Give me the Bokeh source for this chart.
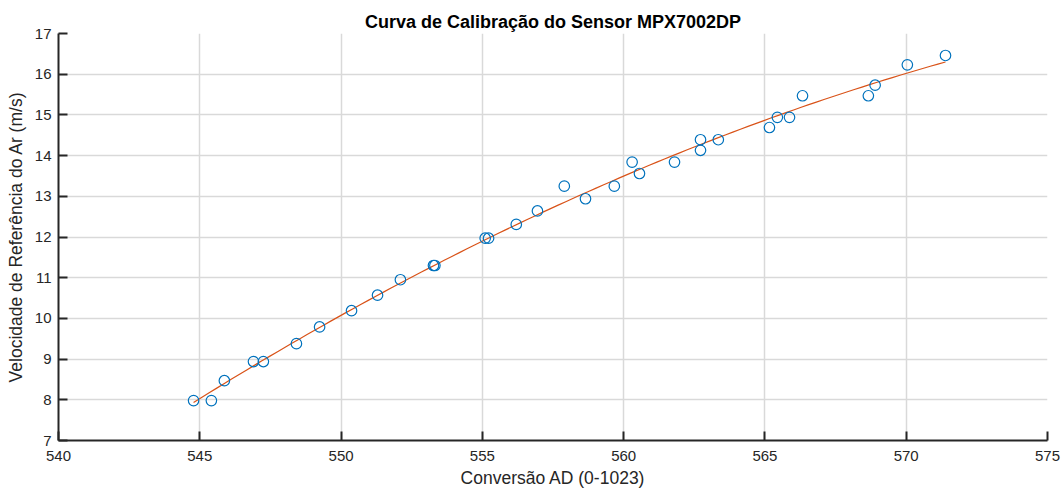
import numpy as np
from bokeh.plotting import figure
from bokeh.models import Range1d, FixedTicker
from bokeh.embed import file_html
from bokeh.resources import INLINE

# Leituras do conversor AD e velocidades de referência
conv_ad = [544.78, 545.41, 545.87, 546.90, 547.25, 548.42, 549.24, 550.37,
           551.29, 552.10, 553.27, 553.32, 555.10, 555.22, 556.20, 556.95,
           557.90, 558.65, 559.67, 560.30, 560.56, 561.80, 562.72, 562.72,
           563.35, 565.16, 565.44, 565.87, 566.33, 568.66, 568.90, 570.04,
           571.39]
velocidade = [7.98, 7.98, 8.47, 8.94, 8.94, 9.38, 9.79, 10.19,
              10.57, 10.95, 11.30, 11.30, 11.97, 11.97, 12.31, 12.64,
              13.25, 12.94, 13.25, 13.84, 13.56, 13.84, 14.39, 14.13,
              14.39, 14.69, 14.94, 14.94, 15.47, 15.47, 15.73, 16.23,
              16.46]

x_ticks = [540, 545, 550, 555, 560, 565, 570, 575]
y_ticks = [7, 8, 9, 10, 11, 12, 13, 14, 15, 16, 17]

# Curva ajustada (polinômio de 2º grau pelos pontos medidos)
coef = np.polyfit(conv_ad, velocidade, 2)
x_fit = np.linspace(min(conv_ad), max(conv_ad), 100)
y_fit = np.polyval(coef, x_fit)

FONT = "Liberation Sans"

p = figure(width=1062, height=493, output_backend="svg", toolbar_location=None,
           x_range=Range1d(540, 575), y_range=Range1d(7, 17),
           min_border_left=58, min_border_right=15, min_border_top=33,
           min_border_bottom=53, background_fill_color="white",
           border_fill_color="white")
p.outline_line_color = None

p.title.text = "Curva de Calibração do Sensor MPX7002DP"
p.title.align = "center"
p.title.text_font = FONT
p.title.text_font_size = "18px"
p.title.text_font_style = "bold"
p.title.text_color = "#000000"
p.title.standoff = 3

p.line(x_fit, y_fit, line_color="#D95319", line_width=1.2)
p.scatter(conv_ad, velocidade, marker="circle", size=10.5, fill_color=None,
          line_color="#0072BD", line_width=1.2)

for ax, ticks in ((p.xaxis, x_ticks), (p.yaxis, y_ticks)):
    ax.ticker = FixedTicker(ticks=ticks)
    ax.minor_tick_line_color = None
    ax.major_tick_in = 9
    ax.major_tick_out = 0
    ax.axis_line_color = "#262626"
    ax.axis_line_width = 2
    ax.major_tick_line_color = "#262626"
    ax.major_tick_line_width = 2
    ax.major_label_text_font = FONT
    ax.major_label_text_font_size = "15px"
    ax.major_label_text_color = "#262626"
    ax.axis_label_text_font = FONT
    ax.axis_label_text_font_size = "17.5px"
    ax.axis_label_text_font_style = "normal"
    ax.axis_label_text_color = "#262626"

p.xaxis.axis_label = "Conversão AD (0-1023)"
p.yaxis.axis_label = "Velocidade de Referência do Ar (m/s)"
p.xaxis.major_label_standoff = 10
p.xaxis.axis_label_standoff = 4
p.yaxis.major_label_standoff = 7
p.yaxis.axis_label_standoff = 6

for g in (p.xgrid, p.ygrid):
    g.grid_line_color = "#d9d9d9"
    g.grid_line_width = 1.5

open("out.html", "w").write(file_html(p, INLINE))
